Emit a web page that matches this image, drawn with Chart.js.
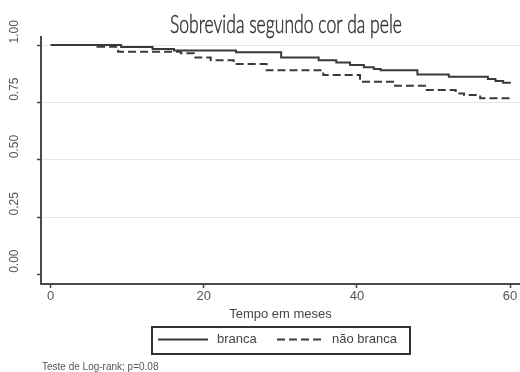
<!DOCTYPE html>
<html><head><meta charset="utf-8">
<script src="https://cdn.jsdelivr.net/npm/chart.js@4.4.1/dist/chart.umd.min.js"></script>
<style>html,body{margin:0;padding:0;background:#fff}canvas{display:block}</style>
</head><body>
<canvas id="c" width="520" height="372"></canvas>
<script>
const titleText = 'Sobrevida segundo cor da pele';
const xAxisLabel = 'Tempo em meses';
const footnote = 'Teste de Log-rank; p=0.08';
const seriesNames = ['branca', 'não branca'];
const xTicks = [0, 20, 40, 60];
const yTicks = [0, 0.25, 0.5, 0.75, 1];
const yTickLabels = ['0.00', '0.25', '0.50', '0.75', '1.00'];

const brancaTime = [0, 9.2, 13.3, 16.1, 24.2, 30.1, 35.0, 37.3, 39.1, 40.9, 42.2, 43.1, 47.9, 52.0, 57.1, 58.1, 59.1, 60.1];
const brancaSurv = [1.000, 0.991, 0.983, 0.976, 0.968, 0.946, 0.934, 0.924, 0.913, 0.903, 0.896, 0.890, 0.872, 0.862, 0.852, 0.843, 0.835, 0.835];

const naoBrancaTime = [0, 6.1, 8.8, 17.0, 18.7, 20.9, 23.9, 28.2, 35.6, 40.4, 45.0, 48.9, 52.9, 54.0, 56.1, 60.3];
const naoBrancaSurv = [1.000, 0.993, 0.971, 0.964, 0.946, 0.934, 0.917, 0.890, 0.869, 0.840, 0.822, 0.804, 0.789, 0.782, 0.768, 0.768];

const FAM = "'Liberation Sans', Arial, sans-serif";
const toPts = (t, s) => t.map((v, i) => ({x: v, y: s[i]}));

const extras = {
  id: 'extras',
  afterDraw(chart) {
    const ctx = chart.ctx;
    // title (condensed)
    ctx.save();
    ctx.font = '300 25px Lato';
    ctx.fillStyle = '#333';
    ctx.strokeStyle = '#333';
    ctx.lineWidth = 0.5;
    const w = ctx.measureText(titleText).width;
    ctx.translate(286, 33.3);
    ctx.scale(232 / w, 1);
    ctx.textAlign = 'center';
    ctx.textBaseline = 'alphabetic';
    ctx.fillText(titleText, 0, 0);
    ctx.strokeText(titleText, 0, 0);
    ctx.restore();

    // y tick labels, rotated
    const ys = chart.scales.y;
    ctx.save();
    ctx.font = '12px ' + FAM;
    ctx.fillStyle = '#555';
    yTicks.forEach((v, i) => {
      const py = ys.getPixelForValue(v);
      ctx.save();
      ctx.translate(15, py - 1.5);
      ctx.rotate(-Math.PI / 2);
      ctx.textAlign = 'left';
      ctx.textBaseline = 'middle';
      ctx.fillText(yTickLabels[i], 0, 0);
      ctx.restore();
    });
    ctx.restore();

    // legend box
    ctx.save();
    ctx.strokeStyle = '#333';
    ctx.lineWidth = 2;
    ctx.strokeRect(152, 327, 258, 27);
    const ds = chart.data.datasets;
    const items = [{x1: 158, x2: 208, tx: 217}, {x1: 277, x2: 322, tx: 332}];
    ds.forEach((d, i) => {
      const it = items[i];
      ctx.beginPath();
      ctx.setLineDash(d.borderDash || []);
      ctx.strokeStyle = d.borderColor;
      ctx.lineWidth = 2;
      ctx.moveTo(it.x1, 339.5);
      ctx.lineTo(it.x2, 339.5);
      ctx.stroke();
      ctx.setLineDash([]);
      ctx.font = '13px ' + FAM;
      ctx.fillStyle = '#444';
      ctx.textAlign = 'left';
      ctx.textBaseline = 'alphabetic';
      ctx.fillText(d.label, it.tx, 342.5);
    });
    ctx.restore();

    // footnote
    ctx.save();
    ctx.font = '10px ' + FAM;
    ctx.fillStyle = '#555';
    ctx.textAlign = 'left';
    ctx.textBaseline = 'alphabetic';
    ctx.fillText(footnote, 42, 370);
    ctx.restore();
  }
};

new Chart(document.getElementById('c'), {
  type: 'line',
  data: {
    datasets: [
      {label: seriesNames[0], data: toPts(brancaTime, brancaSurv), borderColor: '#3a3a3a', borderWidth: 2, stepped: true, pointRadius: 0, fill: false},
      {label: seriesNames[1], data: toPts(naoBrancaTime, naoBrancaSurv), borderColor: '#3a3a3a', borderWidth: 2, borderDash: [8, 4], stepped: true, pointRadius: 0, fill: false}
    ]
  },
  options: {
    responsive: false,
    animation: false,
    layout: {padding: {top: 37, left: 0, right: 0, bottom: 0}},
    plugins: {legend: {display: false}, title: {display: false}, tooltip: {enabled: false}},
    scales: {
      x: {
        type: 'linear', min: -1.27, max: 61.3,
        afterBuildTicks: s => { s.ticks = xTicks.map(v => ({value: v})); },
        afterFit: s => { s.height = 88; },
        grid: {drawOnChartArea: false, drawTicks: true, tickLength: 4, tickColor: '#444', tickWidth: 1.5},
        border: {display: true, color: '#4a4a4a', width: 2},
        ticks: {font: {family: FAM, size: 13}, color: '#555', padding: 0.5, maxRotation: 0, minRotation: 0, autoSkip: false, callback: v => String(v)},
        title: {display: true, text: xAxisLabel, font: {family: FAM, size: 13}, color: '#444', padding: {top: 0, bottom: 50.2}}
      },
      y: {
        type: 'linear', min: -0.042, max: 1.035,
        afterBuildTicks: s => { s.ticks = yTicks.map(v => ({value: v})); },
        afterFit: s => { s.width = 41; },
        grid: {color: c => (c.tick && c.tick.value === 0) ? 'rgba(0,0,0,0)' : '#e6e6e6', lineWidth: 1, drawTicks: true, tickLength: 4, tickColor: '#444', tickWidth: 1.5},
        border: {display: true, color: '#4a4a4a', width: 2},
        ticks: {display: false}
      }
    }
  },
  plugins: [extras]
});
</script>
</body></html>
